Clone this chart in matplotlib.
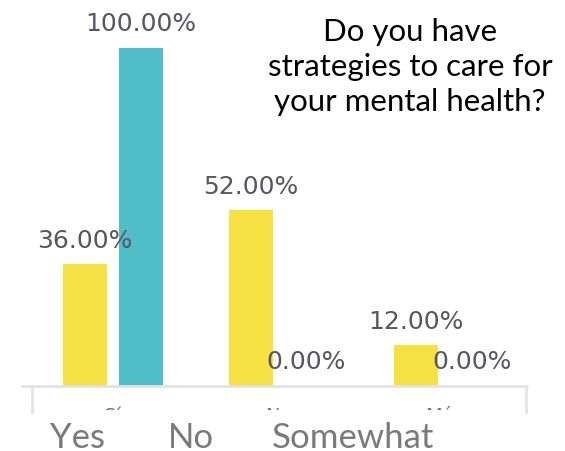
import matplotlib.pyplot as plt
from matplotlib.lines import Line2D
from matplotlib.patches import Rectangle
import numpy as np

categories = ["Sí", "No", "Más"]
series_yellow = [36, 52, 12]
series_teal = [100, 0, 0]
bottom_labels = ["Yes", "No", "Somewhat"]
title_lines = "Do you have\nstrategies to care for\nyour mental health?"

yellow = "#f6e142"
teal = "#4fbec8"
W, H = 565, 451

fig = plt.figure(figsize=(W / 100, H / 100), dpi=100)
ax = fig.add_axes([30 / W, 1 - 386 / H, 497 / W, 338 / H])

x = np.arange(len(categories))
w = 0.266
off = 0.168
b1 = ax.bar(x - off, series_yellow, w, color=yellow)
b2 = ax.bar(x + off, series_teal, w, color=teal)

for bars, vals in ((b1, series_yellow), (b2, series_teal)):
    for r, v in zip(bars, vals):
        ax.annotate(f"{v:.2f}%", (r.get_x() + r.get_width() / 2, v),
                    xytext=(0, 17), textcoords="offset points",
                    ha="center", va="center", fontsize=18, color="#5a5560")

ax.set_xlim(-0.5, 2.5)
ax.set_ylim(0, 100)
for s in ("top", "left", "right", "bottom"):
    ax.spines[s].set_visible(False)
ax.set_yticks([])
ax.set_xticks([])

# baseline and frame edges below it
gray = "#e3e3e3"
ax.add_line(Line2D([-0.016, 1], [0, 0], transform=ax.transAxes, color=gray, lw=2, clip_on=False))
for xe in (0.004, 0.998):
    ax.add_line(Line2D([xe, xe], [0, -26 / 338], transform=ax.transAxes, color=gray, lw=2, clip_on=False))

# category labels, mostly cut off at the bottom of the original chart
clip = Rectangle((0, 1 - 410 / H), 1, 30 / H, transform=fig.transFigure)
for i, c in enumerate(categories):
    t = ax.text(i, -21 / 338 * 100, c, ha="center", va="top", fontsize=14, color="#777777")
    t.set_clip_on(True)
    t.set_clip_path(clip)

fig.text(410 / W, 1 - 67 / H, title_lines, ha="center", va="center",
         fontsize=22.5, family="Lato", color="black", linespacing=1.3)

for lab, px in zip(bottom_labels, (50, 168, 272)):
    fig.text(px / W, 1 - 448 / H, lab, ha="left", va="baseline",
             fontsize=25, family="Lato", color="#7a7a7a")

fig.savefig("out.png", dpi=100)
